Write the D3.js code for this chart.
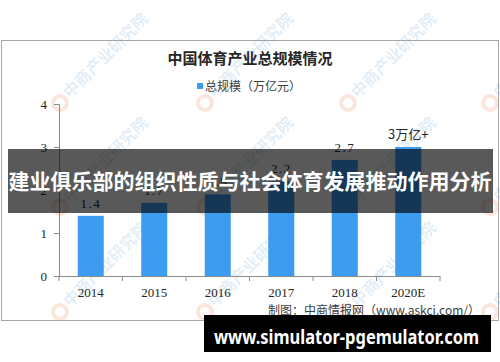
<!DOCTYPE html>
<html>
  <head>
    <meta charset="utf-8">
    <title>中国体育产业总规模情况</title>
    <script src="https://cdnjs.cloudflare.com/ajax/libs/d3/7.8.5/d3.min.js"></script>
    <style>
      body { margin: 0; background: #fff; }
    </style>
  </head>
  <body>

    <svg class="chart" width="500" height="362"></svg>

    <script>

      var years = ['2014', '2015', '2016', '2017', '2018', '2020E'];
      var values = [1.4, 1.7, 1.9, 2.2, 2.7, 3.0];
      var valueLabels = ['1.4', '1.7', '1.9', '2.2', '2.7', '3万亿+'];
      var yTicks = [0, 1, 2, 3, 4];

      var svg = d3.select("svg.chart");

      svg.append("rect")
        .attr("width", 500).attr("height", 362).attr("fill", "#fff");

      // chart frame
      svg.append("rect")
        .attr("x", 1.5).attr("y", 40.5)
        .attr("width", 497).attr("height", 280)
        .attr("fill", "none").attr("stroke", "#a6a6a6");

      // faint watermarks
      var marks = [];
      [60, 205, 348, 490].forEach(function(x) {
        [103, 207, 312].forEach(function(y) { marks.push([x, y]); });
      });
      var wm = svg.append("g").attr("class", "watermark");
      wm.selectAll("circle")
        .data(marks)
        .enter()
          .append("circle")
            .attr("cx", function(d){ return d[0]; })
            .attr("cy", function(d){ return d[1]; })
            .attr("r", 7)
            .attr("fill", "none")
            .attr("stroke", "rgba(240,150,120,0.25)")
            .attr("stroke-width", 4);
      wm.selectAll("text")
        .data(marks)
        .enter()
          .append("text")
            .text("中商产业研究院")
            .attr("transform", function(d){
              return "translate(" + (d[0] + 10) + "," + (d[1] - 4) + ") rotate(-45)";
            })
            .attr("font-family", "Noto Sans CJK SC")
            .attr("font-weight", "bold")
            .attr("font-size", 16)
            .attr("fill", "rgba(120,175,220,0.22)");

      var x = d3.scaleBand()
        .domain(years)
        .range([59, 440])
        .paddingInner(0.59)
        .paddingOuter(0.295);

      var y = d3.scaleLinear()
        .domain([0, 4])
        .range([276, 104]);

      // title and legend
      svg.append("text")
        .text("中国体育产业总规模情况")
        .attr("x", 250).attr("y", 64)
        .attr("text-anchor", "middle")
        .attr("font-family", "Noto Sans CJK SC")
        .attr("font-weight", "bold")
        .attr("font-size", 15)
        .attr("fill", "#262626");

      svg.append("rect")
        .attr("x", 197).attr("y", 83)
        .attr("width", 6).attr("height", 6)
        .attr("fill", "#3d9cf0");
      svg.append("text")
        .text("总规模（万亿元）")
        .attr("x", 205).attr("y", 91)
        .attr("font-family", "Noto Sans CJK SC")
        .attr("font-size", 12)
        .attr("fill", "#404040");

      // axes
      var yAxis = svg.append("g")
        .attr("transform", "translate(59,0)")
        .call(d3.axisLeft(y).tickValues(yTicks).tickSize(5).tickPadding(7).tickFormat(d3.format("d")));
      var xAxis = svg.append("g")
        .attr("transform", "translate(0,276)")
        .call(d3.axisBottom(x).tickSize(0).tickPadding(12));

      [yAxis, xAxis].forEach(function(a) {
        a.selectAll("path, line").attr("stroke", "#8c8c8c");
        a.selectAll("text")
          .attr("font-family", "Liberation Serif")
          .attr("font-size", 13)
          .attr("fill", "#262626");
      });

      // category boundary ticks on x axis
      var step = x.step();
      svg.append("g")
        .selectAll("line")
        .data(d3.range(years.length + 1))
        .enter()
          .append("line")
            .attr("x1", function(i){ return 59 + i * step; })
            .attr("x2", function(i){ return 59 + i * step; })
            .attr("y1", 276).attr("y2", 281)
            .attr("stroke", "#8c8c8c");

      // bars
      svg.append("g")
        .selectAll("rect")
        .data(values)
        .enter()
          .append("rect")
            .attr("x", function(d, i){ return x(years[i]); })
            .attr("y", function(d){ return y(d); })
            .attr("width", x.bandwidth())
            .attr("height", function(d){ return y(0) - y(d); })
            .attr("fill", "#3d9cf0");

      // value labels
      svg.append("g")
        .selectAll("text")
        .data(values)
        .enter()
          .append("text")
            .text(function(d, i){ return valueLabels[i]; })
            .attr("x", function(d, i){ return x(years[i]) + x.bandwidth() / 2; })
            .attr("y", function(d){ return y(d) - 8; })
            .attr("text-anchor", "middle")
            .attr("font-family", function(d, i){ return i === values.length - 1 ? "Noto Sans CJK SC" : "Liberation Serif"; })
            .attr("font-size", 13)
            .attr("letter-spacing", function(d, i){ return i === values.length - 1 ? 0 : 1.5; })
            .attr("fill", "#262626");

      // source
      svg.append("text")
        .text("制图：中商情报网（www.askci.com/）")
        .attr("x", 480).attr("y", 315)
        .attr("text-anchor", "end")
        .attr("font-family", "Noto Sans CJK SC")
        .attr("font-size", 12)
        .attr("fill", "#404040");

      // overlay banner
      svg.append("rect")
        .attr("x", 8).attr("y", 149)
        .attr("width", 485).attr("height", 64)
        .attr("fill", "rgba(0,0,0,0.65)");
      svg.append("text")
        .text("建业俱乐部的组织性质与社会体育发展推动作用分析")
        .attr("x", 250).attr("y", 189)
        .attr("text-anchor", "middle")
        .attr("font-family", "Noto Sans CJK SC")
        .attr("font-weight", "bold")
        .attr("font-size", 21)
        .attr("fill", "#fff");

      // bottom site box
      svg.append("rect")
        .attr("x", 204).attr("y", 315)
        .attr("width", 287).attr("height", 37)
        .attr("fill", "#000");
      svg.append("text")
        .text("www.simulator-pgemulator.com")
        .attr("x", 214).attr("y", 344)
        .attr("textLength", 265)
        .attr("lengthAdjust", "spacingAndGlyphs")
        .attr("font-family", "Noto Sans")
        .attr("font-weight", "bold")
        .attr("font-size", 20)
        .attr("fill", "#fff");

    </script>
  </body>
</html>
